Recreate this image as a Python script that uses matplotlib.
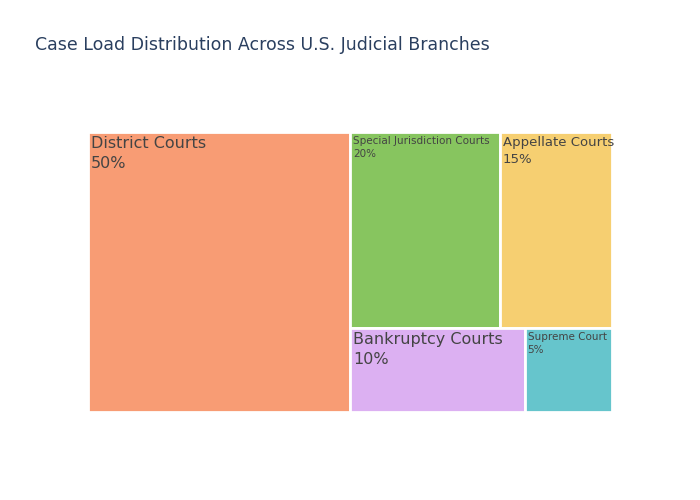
import matplotlib
matplotlib.use('Agg')
import matplotlib.pyplot as plt
from matplotlib.patches import Rectangle

# data
branches = ['District Courts', 'Special Jurisdiction Courts', 'Appellate Courts',
            'Bankruptcy Courts', 'Supreme Court']
shares = [50, 20, 15, 10, 5]
colors = ['#F89C74', '#87C55F', '#F6CF71', '#DCB0F2', '#66C5CC']
font_sizes = [11.5, 7.5, 9.5, 11.5, 7.5]


def worst(row, side, total, area):
    s = sum(row)
    length = s / total * area / side
    r = []
    for v in row:
        other = v / total * area / length
        r.append(max(length / other, other / length))
    return max(r)


def squarify(vals, x, y, w, h):
    # simple squarified layout, y measured from top
    rects = []
    vals = list(vals)
    while vals:
        total = sum(vals)
        area = w * h
        side = min(w, h)
        row = [vals[0]]
        i = 1
        while i < len(vals) and worst(row + [vals[i]], side, total, area) <= worst(row, side, total, area):
            row.append(vals[i])
            i += 1
        frac = sum(row) / total
        if w >= h:
            rw = w * frac
            yy = y
            for v in row:
                hh = h * v / sum(row)
                rects.append((x, yy, rw, hh))
                yy += hh
            x += rw
            w -= rw
        else:
            rh = h * frac
            xx = x
            for v in row:
                ww = w * v / sum(row)
                rects.append((xx, y, ww, rh))
                xx += ww
            y += rh
            h -= rh
        vals = vals[i:]
    return rects


fig = plt.figure(figsize=(7, 5), dpi=100)
ax = fig.add_axes([88 / 700, 1 - 412 / 500, 524 / 700, 280 / 500])
ax.set_xlim(0, 524)
ax.set_ylim(280, 0)
ax.axis('off')

rects = squarify(shares, 0, 0, 524, 280)
for (x, y, w, h), name, v, c, fs in zip(rects, branches, shares, colors, font_sizes):
    ax.add_patch(Rectangle((x, y), w, h, facecolor=c, edgecolor='white', linewidth=2))
    ax.text(x + 3, y + 4, f'{name}\n{v}%', fontsize=fs, color='#444444',
            va='top', ha='left', linespacing=1.4)

fig.text(35 / 700, 1 - 45 / 500, 'Case Load Distribution Across U.S. Judicial Branches',
         fontsize=12.5, color='#2a3f5f', va='center', ha='left')

fig.savefig('out.png')
